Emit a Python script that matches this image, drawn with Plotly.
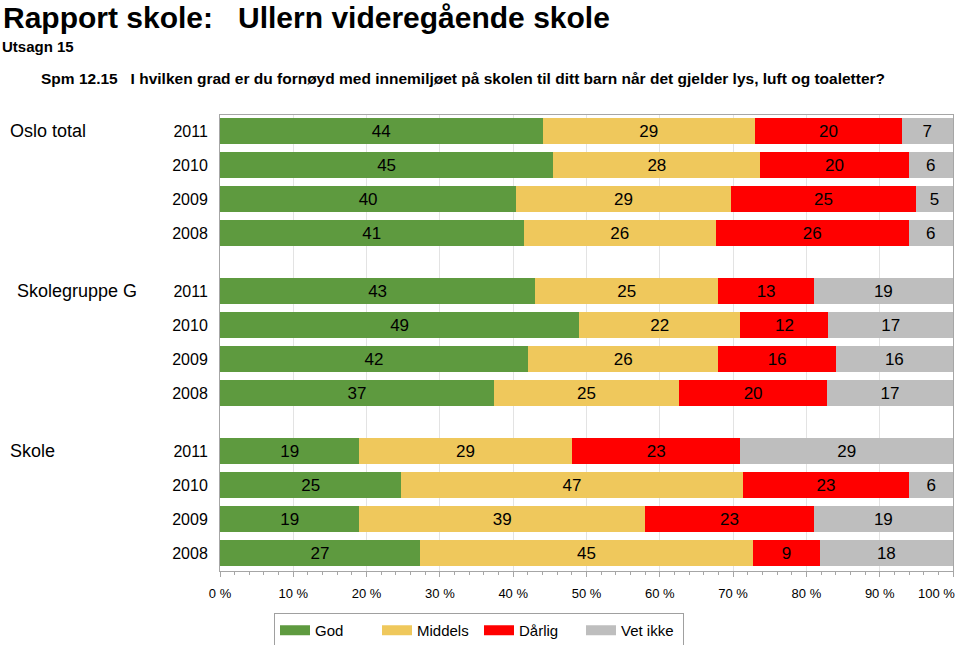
import plotly.graph_objects as go

# ---- data ----
groups = ["Oslo total", "Skolegruppe G", "Skole"]
years = ["2011", "2010", "2009", "2008"]
categories = ["God", "Middels", "Dårlig", "Vet ikke"]

god      = [44, 45, 40, 41,  43, 49, 42, 37,  19, 25, 19, 27]
middels  = [29, 28, 29, 26,  25, 22, 26, 25,  29, 47, 39, 45]
darlig   = [20, 20, 25, 26,  13, 12, 16, 20,  23, 23, 23,  9]
vet_ikke = [ 7,  6,  5,  6,  19, 17, 16, 17,  29,  6, 19, 18]

x_ticks = list(range(0, 101, 10))
x_ticklabels = [f"{v} %" for v in x_ticks]

series = [god, middels, darlig, vet_ikke]
colors = ["#5E9A3F", "#EFC85C", "#FF0000", "#BEBEBE"]

# ---- layout helpers ----
W, H = 960, 645
L, R, T, B = 220, 7, 115, 74
PW, PH = W - L - R, H - T - B
GROUP_GAP = 0.7

def px_x(px):
    return (px - L) / PW

def px_y(py):
    return (H - B - py) / PH

ypos = []
ylabels = []
for g in range(len(groups)):
    for i, yr in enumerate(years):
        ypos.append(g * (len(years) + GROUP_GAP) + i)
        ylabels.append(yr)

fig = go.Figure()
for name, vals, col in zip(categories, series, colors):
    fig.add_trace(go.Bar(
        y=ypos, x=vals, name=name, orientation="h",
        marker=dict(color=col, line=dict(width=0)),
        width=0.76,
        text=[str(v) for v in vals],
        texttemplate="%{text}",
        textposition="inside",
        insidetextanchor="middle",
        textangle=0,
        textfont=dict(color="black", size=17, family="Liberation Sans, Arial"),
        hoverinfo="skip",
        legendgroup=name, showlegend=False,
    ))
# legend entries (wide rectangular swatches), linked to the bar traces
for name, col in zip(categories, colors):
    fig.add_trace(go.Scatter(
        x=[None], y=[None], mode="lines", name=name,
        line=dict(color=col, width=12),
        legendgroup=name, showlegend=True, hoverinfo="skip",
    ))

annotations = []
# titles
annotations.append(dict(text="<b>Rapport skole:   Ullern videregående skole</b>",
                        x=px_x(1), y=px_y(17), xref="paper", yref="paper",
                        xanchor="left", yanchor="middle", showarrow=False,
                        font=dict(size=30, color="black")))
annotations.append(dict(text="<b>Utsagn 15</b>",
                        x=px_x(0), y=px_y(47), xref="paper", yref="paper",
                        xanchor="left", yanchor="middle", showarrow=False,
                        font=dict(size=15, color="black")))
annotations.append(dict(text="<b>Spm 12.15   I hvilken grad er du fornøyd med innemiljøet på skolen til ditt barn når det gjelder lys, luft og toaletter?</b>",
                        x=px_x(39), y=px_y(79), xref="paper", yref="paper",
                        xanchor="left", yanchor="middle", showarrow=False,
                        font=dict(size=15.5, color="black")))
# group labels
group_x = [8, 15, 8]
for g, name in enumerate(groups):
    annotations.append(dict(text=name, x=px_x(group_x[g]), y=ypos[g * len(years)],
                            xref="paper", yref="y", xanchor="left", yanchor="middle",
                            showarrow=False, font=dict(size=18, color="black")))
# last tick label is pulled inside the page (as in the original)
annotations.append(dict(text=x_ticklabels[-1], x=x_ticks[-1], xref="x",
                        y=px_y(593), yref="paper", xanchor="right", yanchor="middle",
                        xshift=4, showarrow=False,
                        font=dict(size=13, color="black")))
tick_text = x_ticklabels[:-1] + [""]

fig.update_layout(
    width=W, height=H,
    margin=dict(l=L, r=R, t=T, b=B, pad=0, autoexpand=False),
    barmode="stack", barnorm="percent",
    plot_bgcolor="white", paper_bgcolor="white",
    font=dict(family="Liberation Sans, Arial", color="black"),
    annotations=annotations,
    legend=dict(orientation="h", x=px_x(479), xanchor="center",
                y=px_y(613), yanchor="top",
                traceorder="normal",
                bordercolor="#A0A0A0", borderwidth=1, bgcolor="white",
                font=dict(size=15, color="black"),
                itemwidth=30,
                entrywidth=57, entrywidthmode="pixels"),
    xaxis=dict(range=[0, 100], tickvals=x_ticks, ticktext=tick_text,
               showgrid=True, gridcolor="#E3E3E3", gridwidth=1,
               zeroline=False, showline=True, mirror=True,
               linecolor="#A6A6A6", linewidth=1,
               ticks="outside", ticklen=5, tickcolor="#A6A6A6",
               tickfont=dict(size=13, color="black"),
               ticklabelstandoff=5, automargin=False,
               minor=dict(dtick=2, ticks="outside", ticklen=3, tickcolor="#A6A6A6",
                          showgrid=False),
               fixedrange=True),
    yaxis=dict(range=[12.92, -0.48], tickvals=ypos, ticktext=ylabels,
               showgrid=False, zeroline=False, showline=True, mirror=True,
               linecolor="#A6A6A6", linewidth=1, ticks="",
               tickfont=dict(size=16, color="black"),
               ticklabelstandoff=8, automargin=False, fixedrange=True),
    showlegend=True,
)

fig.write_html("out.html", config={"displayModeBar": False},
               post_script="document.body.style.margin='0';document.body.style.padding='0';")
